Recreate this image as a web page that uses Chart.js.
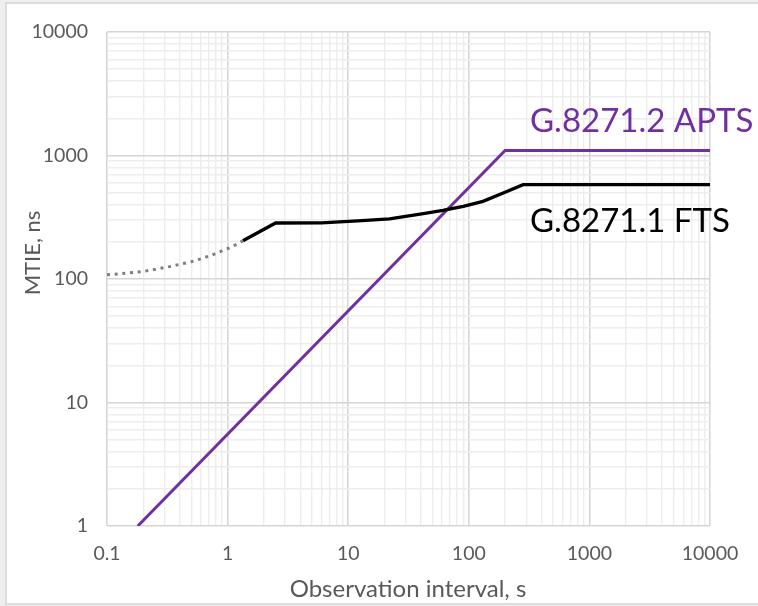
<!DOCTYPE html>
<html>
<head>
<meta charset="utf-8">
<script src="https://cdn.jsdelivr.net/npm/chart.js"></script>
<style>
  body { margin: 0; background: #efeeef; width: 758px; height: 606px; overflow: hidden; position: relative; }
  .frame { position: absolute; left: 5px; top: 2px; right: -4px; bottom: 1px; background: #fff; border: 2px solid #dcdcdc; }
  #mtieChart { position: absolute; left: 0; top: 0; }
</style>
</head>
<body>
<div class="frame"></div>
<canvas id="mtieChart" width="758" height="606"></canvas>
<script>
// observation interval (s) / MTIE (ns)
const ftsDottedX = [0.1, 0.2, 0.33, 0.5, 0.59, 0.75, 0.91, 1.1, 1.34];
const ftsDottedY = [108, 115, 126, 138, 145, 157, 170, 183, 204];

const ftsX = [1.34, 2.5, 6, 12, 22, 42, 61, 90, 131, 193, 282, 10000];
const ftsY = [204, 284, 285, 296, 307, 338, 359, 387, 425, 497, 580, 580];

const aptsX = [0.18, 200, 10000];
const aptsY = [1, 1100, 1100];

const xMajor = [0.1, 1, 10, 100, 1000, 10000];
const xTickLabels = ["0.1", "1", "10", "100", "1000", "10000"];
const yMajor = [1, 10, 100, 1000, 10000];
const yTickLabels = ["1", "10", "100", "1000", "10000"];

const seriesNames = ["G.8271.2 APTS", "G.8271.1 FTS"];
const xTitle = "Observation interval, s";
const yTitle = "MTIE, ns";

const FONT = "Lato";
const labelGrey = "#595959";
const purple = "#7030a0";

const toPoints = (xs, ys) => xs.map((x, i) => ({ x: x, y: ys[i] }));

const isPow10 = (v) => Math.abs(Math.log10(v) - Math.round(Math.log10(v))) < 1e-9;

// 1..9 per decade so every minor grid line is there
function decadeTicks(majors) {
  const out = [];
  for (let i = 0; i < majors.length - 1; i++) {
    for (let m = 1; m < 10; m++) out.push({ value: m * majors[i] });
  }
  out.push({ value: majors[majors.length - 1] });
  return out;
}

function labelFor(majors, labels) {
  return (value) => {
    const i = majors.findIndex((v) => Math.abs(v - value) < v * 1e-6);
    return i >= 0 ? labels[i] : "";
  };
}

const gridStyle = {
  color: (ctx) => (ctx.tick && isPow10(ctx.tick.value) ? "#d6d6d6" : "#ededed"),
  lineWidth: (ctx) => (ctx.tick && isPow10(ctx.tick.value) ? 1.6 : 1.4),
  drawTicks: false,
};

const textPlugin = {
  id: "maskTexts",
  afterDraw(chart) {
    const ctx = chart.ctx;
    ctx.save();
    ctx.fillStyle = labelGrey;
    ctx.textAlign = "center";
    ctx.textBaseline = "middle";
    ctx.font = `24px ${FONT}`;
    ctx.fillText(xTitle, 408, 589);

    ctx.translate(33, 253);
    ctx.rotate(-Math.PI / 2);
    ctx.font = `22px ${FONT}`;
    ctx.fillText(yTitle, 0, 0);
    ctx.restore();

    ctx.save();
    ctx.textAlign = "left";
    ctx.textBaseline = "alphabetic";
    ctx.font = `33px ${FONT}`;
    ctx.fillStyle = purple;
    ctx.fillText(seriesNames[0], 530, 132);
    ctx.fillStyle = "#000";
    ctx.fillText(seriesNames[1], 530, 232);
    ctx.restore();
  },
};

new Chart(document.getElementById("mtieChart"), {
  type: "scatter",
  data: {
    datasets: [
      {
        data: toPoints(ftsDottedX, ftsDottedY),
        showLine: true,
        borderColor: "#7f7f7f",
        borderWidth: 3,
        borderDash: [3, 4.7],
        pointRadius: 0,
      },
      {
        data: toPoints(ftsX, ftsY),
        showLine: true,
        borderColor: "#000000",
        borderWidth: 3.3,
        pointRadius: 0,
      },
      {
        data: toPoints(aptsX, aptsY),
        showLine: true,
        borderColor: purple,
        borderWidth: 3,
        pointRadius: 0,
      },
    ],
  },
  options: {
    responsive: false,
    animation: false,
    layout: { padding: { left: 0, right: 48, top: 32, bottom: 0 } },
    plugins: {
      legend: { display: false },
      tooltip: { enabled: false },
    },
    scales: {
      x: {
        type: "logarithmic",
        min: 0.1,
        max: 10000,
        afterBuildTicks: (scale) => { scale.ticks = decadeTicks(xMajor); },
        afterFit: (scale) => { scale.height = 80; },
        grid: gridStyle,
        border: { display: false },
        ticks: {
          autoSkip: false,
          maxRotation: 0,
          padding: 16,
          color: labelGrey,
          font: { family: FONT, size: 19.5 },
          callback: labelFor(xMajor, xTickLabels),
        },
      },
      y: {
        type: "logarithmic",
        min: 1,
        max: 10000,
        afterBuildTicks: (scale) => { scale.ticks = decadeTicks(yMajor); },
        afterFit: (scale) => { scale.width = 107; },
        grid: gridStyle,
        border: { display: false },
        ticks: {
          autoSkip: false,
          padding: 19,
          color: labelGrey,
          font: { family: FONT, size: 19.5 },
          callback: labelFor(yMajor, yTickLabels),
        },
      },
    },
  },
  plugins: [textPlugin],
});
</script>
</body>
</html>
